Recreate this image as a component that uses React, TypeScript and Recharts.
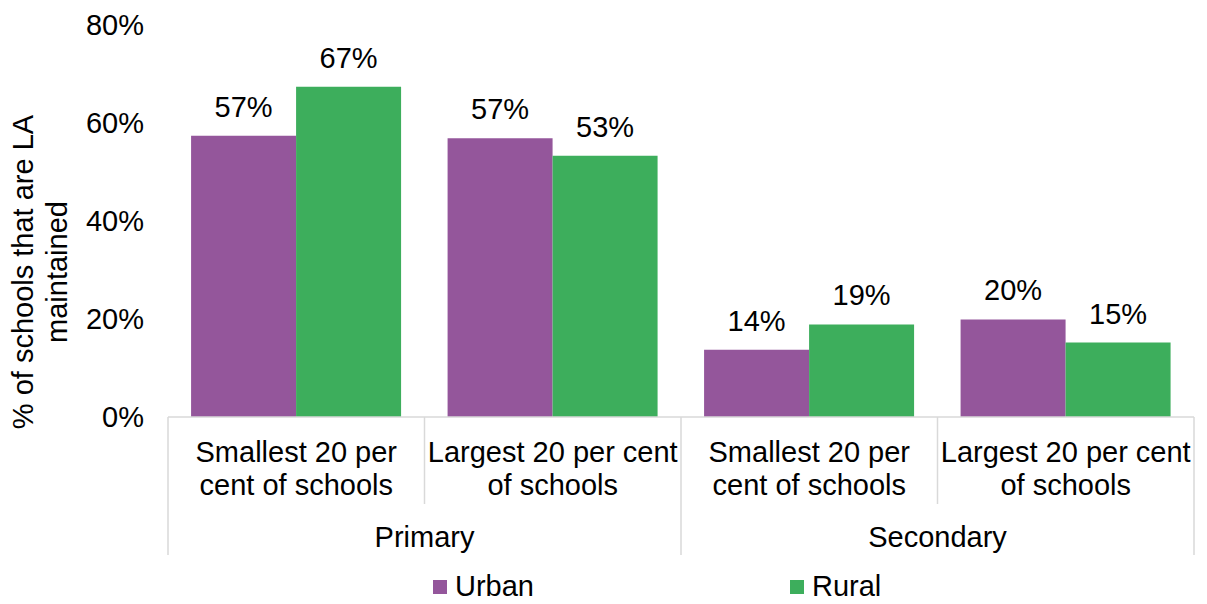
import React from 'react';
import { BarChart, Bar, XAxis, YAxis, Legend, LabelList } from 'recharts';

const categoryKeys = ['p-small', 'p-large', 's-small', 's-large'];
const categoryLines = [
  ['Smallest 20 per', 'cent of schools'],
  ['Largest 20 per cent', 'of schools'],
  ['Smallest 20 per', 'cent of schools'],
  ['Largest 20 per cent', 'of schools'],
];
const groups = ['Primary', 'Secondary'];
const urban = [57.4, 56.9, 13.7, 19.9];
const rural = [67.4, 53.3, 18.9, 15.2];
const yTicks = [0, 20, 40, 60, 80];
const seriesNames = ['Urban', 'Rural'];

const PURPLE = '#94569B';
const GREEN = '#3DAE5C';
const GRID = '#d9d9d9';
const FONT = '"Liberation Sans", Arial, sans-serif';
const FS = 29;

const data = categoryKeys.map((k, i) => ({ key: k, urban: urban[i], rural: rural[i] }));

const XTick = (props: any) => {
  const { x, y, payload, index } = props;
  const half = payload && payload.offset ? payload.offset : 128;
  const lines = categoryLines[index] || ['', ''];
  const isGroupStart = index % 2 === 0;
  return (
    <g>
      <line x1={x - half} x2={x - half} y1={y} y2={y + (isGroupStart ? 138 : 87)} stroke={GRID} strokeWidth={1.5} />
      {index === categoryKeys.length - 1 && (
        <line x1={x + half} x2={x + half} y1={y} y2={y + 138} stroke={GRID} strokeWidth={1.5} />
      )}
      <text x={x} y={y + 45} textAnchor="middle" fontSize={FS} fontFamily={FONT} fill="#000">{lines[0]}</text>
      <text x={x} y={y + 78} textAnchor="middle" fontSize={FS} fontFamily={FONT} fill="#000">{lines[1]}</text>
      {isGroupStart && (
        <text x={x + half} y={y + 130} textAnchor="middle" fontSize={FS} fontFamily={FONT} fill="#000">
          {groups[index / 2]}
        </text>
      )}
    </g>
  );
};

const YLabel = () => (
  <text transform="translate(0,272) rotate(-90)" textAnchor="middle" fontSize={FS} fontFamily={FONT} fill="#000">
    <tspan x={0} y={33}>% of schools that are LA</tspan>
    <tspan x={0} y={67}>maintained</tspan>
  </text>
);

const LegendContent = () => (
  <div style={{ display: 'flex', paddingLeft: 325, fontFamily: FONT, fontSize: FS, color: '#000', lineHeight: '35px' }}>
    {seriesNames.map((n, i) => (
      <div key={n} style={{ display: 'flex', alignItems: 'center', width: i === 0 ? 357 : 'auto' }}>
        <span style={{ display: 'inline-block', width: 14, height: 14, background: i === 0 ? PURPLE : GREEN, marginRight: 8 }} />
        <span>{n}</span>
      </div>
    ))}
  </div>
);

export default function App() {
  return (
    <div style={{ position: 'absolute', left: 0, top: 0, width: 1207, height: 604, background: '#fff' }}>
      <BarChart
        width={1207}
        height={604}
        data={data}
        margin={{ top: 25, right: 13, left: 108, bottom: 0 }}
        barCategoryGap="9%"
        barGap={0}
      >
        <XAxis
          dataKey="key"
          tick={<XTick />}
          tickLine={false}
          tickSize={0}
          tickMargin={0}
          axisLine={{ stroke: GRID, strokeWidth: 1.5 }}
          height={152}
          interval={0}
        />
        <YAxis
          domain={[0, 80]}
          ticks={yTicks}
          width={60}
          axisLine={false}
          tickLine={false}
          tickSize={0}
          tickMargin={24}
          tickFormatter={(v: number) => `${v}%`}
          tick={{ fill: '#000', fontSize: FS, fontFamily: FONT }}
          label={{ content: <YLabel /> }}
        />
        <Legend verticalAlign="bottom" height={35} content={<LegendContent />} />
        <Bar dataKey="urban" name="Urban" fill={PURPLE} isAnimationActive={false}>
          <LabelList dataKey="urban" position="top" offset={19} fill="#000" fontSize={FS} fontFamily={FONT} formatter={(v: any) => `${Math.round(Number(v))}%`} />
        </Bar>
        <Bar dataKey="rural" name="Rural" fill={GREEN} isAnimationActive={false}>
          <LabelList dataKey="rural" position="top" offset={19} fill="#000" fontSize={FS} fontFamily={FONT} formatter={(v: any) => `${Math.round(Number(v))}%`} />
        </Bar>
      </BarChart>
    </div>
  );
}
